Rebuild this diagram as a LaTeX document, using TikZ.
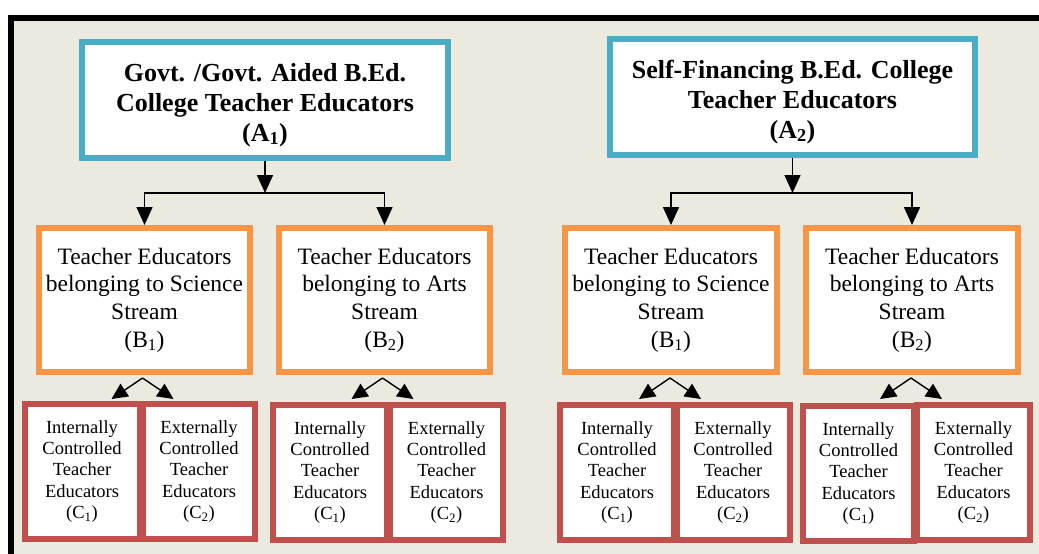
\documentclass[tikz,border=0pt]{standalone}
\usepackage{fontspec}
\setmainfont{Liberation Serif}
\usetikzlibrary{arrows.meta,calc}
\definecolor{boxcyan}{HTML}{4BACC6}
\definecolor{boxorange}{HTML}{F79646}
\definecolor{boxred}{HTML}{C0504D}
\definecolor{pagetan}{HTML}{ECE9DE}
\tikzset{
	topbox/.style={draw=boxcyan, line width=6pt, fill=white, inner sep=0pt, align=center,
		minimum width=366pt, minimum height=116pt, font=\fontsize{26}{30}\selectfont\bfseries},
	streambox/.style={draw=boxorange, line width=6pt, fill=white, inner sep=0pt, align=center,
		minimum width=211pt, minimum height=144pt, font=\fontsize{23.5}{27.7}\selectfont},
	leafbox/.style={draw=boxred, line width=6pt, fill=white, inner sep=0pt, align=center,
		minimum width=113pt, minimum height=135pt, font=\fontsize{18.5}{21.3}\selectfont},
	bigarrow/.style={line width=1.6pt, -{Triangle[length=18pt,width=16pt]}},
	smallarrow/.style={line width=1.4pt, -{Triangle[length=16pt,width=15pt]}}
}
\newcommand{\upstrut}{\rule{0pt}{28pt}}
\begin{document}
\begin{tikzpicture}[x=1pt, y=-1pt]
		%%%%% START %%%%%
		\useasboundingbox (0, 0) rectangle (1039, 554);
		\fill[white] (0, 0) rectangle (1039, 554);
		\fill[pagetan] (14, 20) rectangle (1039, 554);
		\fill[black] (8, 15) rectangle (1039, 20.5);
		\fill[black] (8, 15) rectangle (14, 554);
		
		\node[topbox] (A1) at (265, 100) {\upstrut Govt. /Govt. Aided B.Ed.\\College Teacher Educators\\(A\textsubscript{1})};
		\node[topbox, minimum width=365pt] (A2) at (792.5, 97) {\upstrut Self-Financing B.Ed. College\\Teacher Educators\\(A\textsubscript{2})};
		
		\node[streambox] (B11) at (144.5, 300) {Teacher Educators\\belonging to Science\\Stream\\(B\textsubscript{1})};
		\node[streambox] (B12) at (384.5, 300) {Teacher Educators\\belonging to Arts\\Stream\\(B\textsubscript{2})};
		\node[streambox, minimum width=212pt] (B21) at (671, 300) {Teacher Educators\\belonging to Science\\Stream\\(B\textsubscript{1})};
		\node[streambox, minimum width=212pt] (B22) at (912, 300) {Teacher Educators\\belonging to Arts\\Stream\\(B\textsubscript{2})};
		
		\node[leafbox, minimum width=115pt] (C111) at (82, 471.5) {Internally\\Controlled\\Teacher\\Educators\\(C\textsubscript{1})};
		\node[leafbox, minimum width=112pt] (C112) at (199, 471.5) {Externally\\Controlled\\Teacher\\Educators\\(C\textsubscript{2})};
		\node[leafbox, minimum width=114pt] (C121) at (330, 472.5) {Internally\\Controlled\\Teacher\\Educators\\(C\textsubscript{1})};
		\node[leafbox] (C122) at (446.5, 472.5) {Externally\\Controlled\\Teacher\\Educators\\(C\textsubscript{2})};
		\node[leafbox, minimum width=114pt] (C211) at (617, 472.5) {Internally\\Controlled\\Teacher\\Educators\\(C\textsubscript{1})};
		\node[leafbox] (C212) at (733, 472.5) {Externally\\Controlled\\Teacher\\Educators\\(C\textsubscript{2})};
		\node[leafbox, minimum width=111pt] (C221) at (858.5, 473.5) {Internally\\Controlled\\Teacher\\Educators\\(C\textsubscript{1})};
		\node[leafbox] (C222) at (973.5, 472.5) {Externally\\Controlled\\Teacher\\Educators\\(C\textsubscript{2})};
		
		% branch points under the top boxes
		\coordinate (jA1) at (A1 |- 0, 193);
		\coordinate (jA2) at (A2 |- 0, 193);
		\draw[bigarrow] (A1) -- (jA1);
		\draw[bigarrow] (A2) -- (jA2);
		\draw[bigarrow] (jA1) -| (B11);
		\draw[bigarrow] (jA1) -| (B12);
		\draw[bigarrow] (jA2) -| (B21);
		\draw[bigarrow] (jA2) -| (B22);
		
		% split under the stream boxes
		\coordinate (kB11) at ($(B11.south)+(-2, 3)$);
		\coordinate (kB12) at ($(B12.south)+(-2, 3)$);
		\coordinate (kB21) at ($(B21.south)+(-1, 3)$);
		\coordinate (kB22) at ($(B22.south)+(-1, 3)$);
		\draw[smallarrow] (kB11) -- ++(-31, 21);
		\draw[smallarrow] (kB11) -- ++(31, 21);
		\draw[smallarrow] (kB12) -- ++(-31, 21);
		\draw[smallarrow] (kB12) -- ++(31, 21);
		\draw[smallarrow] (kB21) -- ++(-31, 21);
		\draw[smallarrow] (kB21) -- ++(31, 21);
		\draw[smallarrow] (kB22) -- ++(-31, 21);
		\draw[smallarrow] (kB22) -- ++(31, 21);
		
		%%%%% END %%%%%
\end{tikzpicture}
\end{document}
